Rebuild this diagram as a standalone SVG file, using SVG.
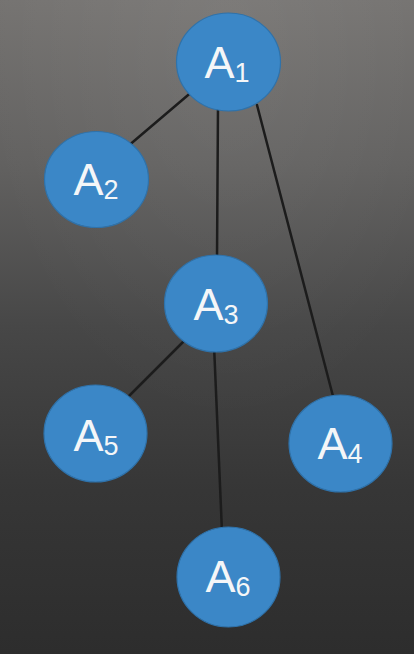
<svg xmlns="http://www.w3.org/2000/svg" width="414" height="654" viewBox="0 0 414 654">
<defs>
<linearGradient id="bg" x1="0" y1="0" x2="0" y2="1">
<stop offset="0" stop-color="#757371"/>
<stop offset="0.25" stop-color="#626160"/>
<stop offset="0.5" stop-color="#474747"/>
<stop offset="0.75" stop-color="#363636"/>
<stop offset="1" stop-color="#2d2d2d"/>
</linearGradient>
<radialGradient id="glow" cx="0.55" cy="0.05" r="0.6">
<stop offset="0" stop-color="#ffffff" stop-opacity="0.06"/>
<stop offset="1" stop-color="#ffffff" stop-opacity="0"/>
</radialGradient>
</defs>
<style>
.edge{stroke:#1c1c1c;stroke-width:2.5;stroke-linecap:round;fill:none}
.node ellipse{fill:#3b87c7;stroke:#2f72aa;stroke-width:1.2}
.node text{font-family:"Liberation Sans",Arial,sans-serif;font-size:45px;fill:#f4f6f8;text-anchor:middle}
.node tspan{font-size:27px}
</style>
<rect width="414" height="654" fill="url(#bg)"/>
<rect width="414" height="654" fill="url(#glow)"/>
<g id="edges">
<line class="edge" x1="194" y1="90" x2="127" y2="147"/>
<line class="edge" x1="218" y1="105" x2="217" y2="260"/>
<line class="edge" x1="257" y1="105" x2="334" y2="400"/>
<line class="edge" x1="185" y1="340" x2="128" y2="397"/>
<line class="edge" x1="214" y1="345" x2="222" y2="532"/>
</g>
<g id="A1" class="node"><ellipse cx="228.5" cy="62" rx="52" ry="49"/><text x="227" y="78">A<tspan dy="4">1</tspan></text></g>
<g id="A2" class="node"><ellipse cx="96.5" cy="179.5" rx="52" ry="48"/><text x="96" y="195">A<tspan dy="4">2</tspan></text></g>
<g id="A3" class="node"><ellipse cx="216" cy="303.5" rx="51.5" ry="48.5"/><text x="216" y="320">A<tspan dy="4">3</tspan></text></g>
<g id="A5" class="node"><ellipse cx="95.5" cy="433.5" rx="51.5" ry="48.5"/><text x="96" y="451">A<tspan dy="4">5</tspan></text></g>
<g id="A4" class="node"><ellipse cx="340.5" cy="443.5" rx="51.5" ry="48.5"/><text x="340" y="459">A<tspan dy="4">4</tspan></text></g>
<g id="A6" class="node"><ellipse cx="228.5" cy="577" rx="51.5" ry="50"/><text x="228" y="592">A<tspan dy="4">6</tspan></text></g>
</svg>
